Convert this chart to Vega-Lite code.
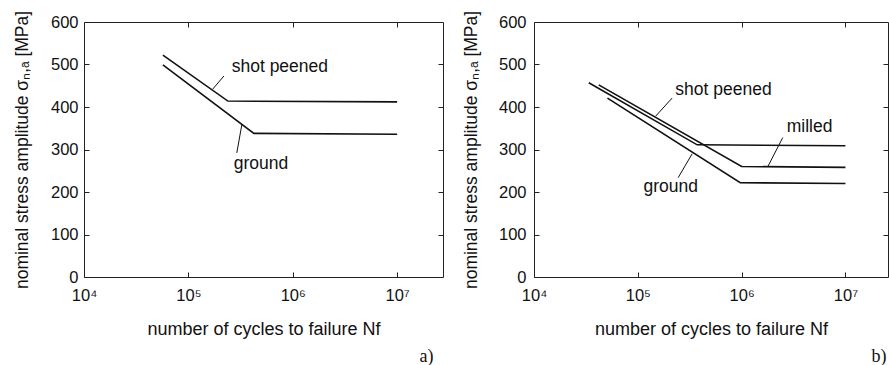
{
  "$schema": "https://vega.github.io/schema/vega-lite/v6.json",
  "padding": {"left": 12, "top": 7, "right": 0, "bottom": 0},
  "spacing": 17,
  "background": "white",
  "config": {
    "font": "Liberation Sans",
    "view": {"stroke": "#222", "strokeWidth": 1},
    "axis": {
      "grid": false,
      "domain": false,
      "tickColor": "#222",
      "tickSize": -5,
      "tickWidth": 1,
      "labelFont": "Liberation Sans",
      "labelFontSize": 16.5,
      "labelColor": "#111",
      "labelFlush": false,
      "labelOverlap": false,
      "titleFont": "Liberation Sans",
      "titleFontSize": 17.5,
      "titleFontWeight": "normal",
      "titleColor": "#111"
    },
    "axisX": {"titleFontSize": 18},
    "title": {"font": "Liberation Serif", "fontSize": 18, "fontWeight": "normal", "color": "#111"}
  },
  "datasets": {
    "linesA": [
      {"series": "shot peened", "N": 57000, "S": 522},
      {"series": "shot peened", "N": 239000, "S": 414},
      {"series": "shot peened", "N": 10000000, "S": 412},
      {"series": "ground", "N": 57000, "S": 499},
      {"series": "ground", "N": 424000, "S": 338},
      {"series": "ground", "N": 10000000, "S": 336}
    ],
    "leadersA": [
      {"label": "shot peened", "N1": 171000, "S1": 442, "N2": 219000, "S2": 473},
      {"label": "ground", "N1": 325000, "S1": 358, "N2": 291000, "S2": 292}
    ],
    "labelsA": [
      {"label": "shot peened", "N": 260000, "S": 494},
      {"label": "ground", "N": 272000, "S": 266}
    ],
    "linesB": [
      {"series": "shot peened", "N": 33700, "S": 457},
      {"series": "shot peened", "N": 373000, "S": 311},
      {"series": "shot peened", "N": 10000000, "S": 309},
      {"series": "milled", "N": 42000, "S": 452},
      {"series": "milled", "N": 1000000, "S": 260},
      {"series": "milled", "N": 10000000, "S": 258},
      {"series": "ground", "N": 51000, "S": 421},
      {"series": "ground", "N": 970000, "S": 222},
      {"series": "ground", "N": 10000000, "S": 220}
    ],
    "leadersB": [
      {"label": "shot peened", "N1": 148000, "S1": 378, "N2": 214000, "S2": 421},
      {"label": "milled", "N1": 1790000, "S1": 260, "N2": 2490000, "S2": 328},
      {"label": "ground", "N1": 334000, "S1": 290, "N2": 245000, "S2": 234}
    ],
    "labelsB": [
      {"label": "shot peened", "N": 230000, "S": 441},
      {"label": "milled", "N": 2720000, "S": 352},
      {"label": "ground", "N": 113500, "S": 211}
    ]
  },
  "hconcat": [
    {
      "width": 359,
      "height": 255,
      "title": {"text": "a)", "orient": "bottom", "anchor": "end", "dx": -10, "offset": 9},
      "resolve": {"axis": {"x": "independent", "y": "independent"}},
      "layer": [
        {
          "data": {"name": "linesA"},
          "mark": {"type": "line", "color": "#111", "strokeWidth": 1.6},
          "encoding": {
            "x": {"field": "N", "type": "quantitative",
                  "scale": {"type": "log", "domain": [10000, 27500000], "nice": false},
                  "axis": {"orient": "bottom", "values": [10000, 100000, 1000000, 10000000],
                           "labelExpr": "datum.value == 10000 ? '10⁴' : datum.value == 100000 ? '10⁵' : datum.value == 1000000 ? '10⁶' : '10⁷'",
                           "labelPadding": 15, "title": "number of cycles to failure Nf", "titlePadding": 17}},
            "y": {"field": "S", "type": "quantitative",
                  "scale": {"domain": [0, 600], "nice": false},
                  "axis": {"orient": "left", "values": [0, 100, 200, 300, 400, 500, 600],
                           "labelPadding": 11, "title": "nominal stress amplitude σₙ,ₐ [MPa]", "titlePadding": 19}},
            "detail": {"field": "series"}
          }
        },
        {
          "data": {"name": "leadersA"},
          "mark": {"type": "rule", "color": "#111", "strokeWidth": 1},
          "encoding": {
            "x": {"field": "N1", "type": "quantitative",
                  "scale": {"type": "log", "domain": [10000, 27500000], "nice": false},
                  "axis": {"orient": "top", "values": [100000, 1000000, 10000000], "labels": false, "title": null}},
            "x2": {"field": "N2"},
            "y": {"field": "S1", "type": "quantitative",
                  "scale": {"domain": [0, 600], "nice": false},
                  "axis": {"orient": "right", "values": [100, 200, 300, 400, 500], "labels": false, "title": null}},
            "y2": {"field": "S2"}
          }
        },
        {
          "data": {"name": "labelsA"},
          "mark": {"type": "text", "align": "left", "baseline": "middle", "fontSize": 17.5, "color": "#111"},
          "encoding": {
            "x": {"field": "N", "type": "quantitative",
                  "scale": {"type": "log", "domain": [10000, 27500000], "nice": false}, "axis": null},
            "y": {"field": "S", "type": "quantitative",
                  "scale": {"domain": [0, 600], "nice": false}, "axis": null},
            "text": {"field": "label"}
          }
        }
      ]
    },
    {
      "width": 354,
      "height": 255,
      "title": {"text": "b)", "orient": "bottom", "anchor": "end", "dx": -2, "offset": 9},
      "resolve": {"axis": {"x": "independent", "y": "independent"}},
      "layer": [
        {
          "data": {"name": "linesB"},
          "mark": {"type": "line", "color": "#111", "strokeWidth": 1.6},
          "encoding": {
            "x": {"field": "N", "type": "quantitative",
                  "scale": {"type": "log", "domain": [10000, 25700000], "nice": false},
                  "axis": {"orient": "bottom", "values": [10000, 100000, 1000000, 10000000],
                           "labelExpr": "datum.value == 10000 ? '10⁴' : datum.value == 100000 ? '10⁵' : datum.value == 1000000 ? '10⁶' : '10⁷'",
                           "labelPadding": 15, "title": "number of cycles to failure Nf", "titlePadding": 17}},
            "y": {"field": "S", "type": "quantitative",
                  "scale": {"domain": [0, 600], "nice": false},
                  "axis": {"orient": "left", "values": [0, 100, 200, 300, 400, 500, 600],
                           "labelPadding": 13, "title": "nominal stress amplitude σₙ,ₐ  [MPa]", "titlePadding": 18}},
            "detail": {"field": "series"}
          }
        },
        {
          "data": {"name": "leadersB"},
          "mark": {"type": "rule", "color": "#111", "strokeWidth": 1},
          "encoding": {
            "x": {"field": "N1", "type": "quantitative",
                  "scale": {"type": "log", "domain": [10000, 25700000], "nice": false},
                  "axis": {"orient": "top", "values": [100000, 1000000, 10000000], "labels": false, "title": null}},
            "x2": {"field": "N2"},
            "y": {"field": "S1", "type": "quantitative",
                  "scale": {"domain": [0, 600], "nice": false},
                  "axis": {"orient": "right", "values": [100, 200, 300, 400, 500], "labels": false, "title": null}},
            "y2": {"field": "S2"}
          }
        },
        {
          "data": {"name": "labelsB"},
          "mark": {"type": "text", "align": "left", "baseline": "middle", "fontSize": 17.5, "color": "#111"},
          "encoding": {
            "x": {"field": "N", "type": "quantitative",
                  "scale": {"type": "log", "domain": [10000, 25700000], "nice": false}, "axis": null},
            "y": {"field": "S", "type": "quantitative",
                  "scale": {"domain": [0, 600], "nice": false}, "axis": null},
            "text": {"field": "label"}
          }
        }
      ]
    }
  ]
}
